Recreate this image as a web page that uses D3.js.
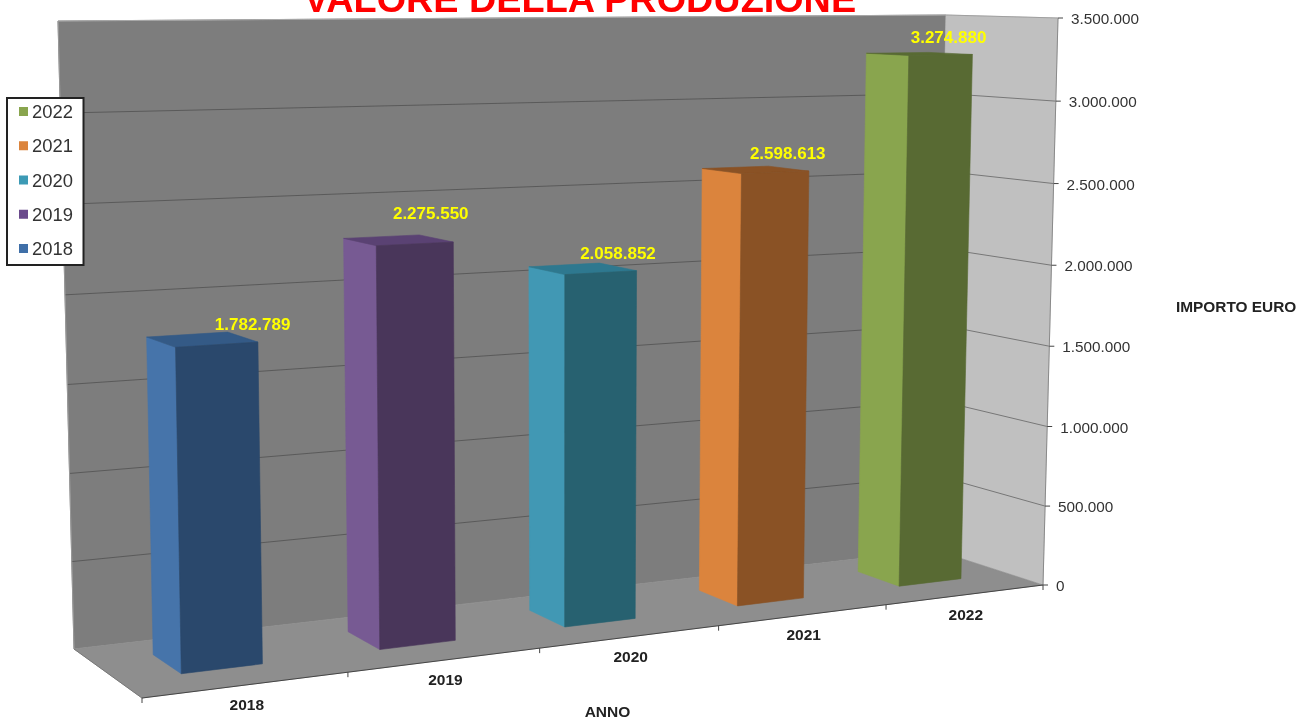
<!DOCTYPE html>
<html><head><meta charset="utf-8">
<script src="https://cdnjs.cloudflare.com/ajax/libs/d3/7.8.5/d3.min.js"></script>
<style>html,body{margin:0;background:#fff}svg{display:block;filter:blur(0.45px)}text{font-family:"Liberation Sans",Arial,sans-serif}</style>
</head><body><svg id="c" width="1301" height="720"></svg>
<script>
const categories = ["2018","2019","2020","2021","2022"];
const values = [1782789,2275550,2058852,2598613,3274880];
const valueTicks = [0,500000,1000000,1500000,2000000,2500000,3000000,3500000];
const tickLabels = ["0","500.000","1.000.000","1.500.000","2.000.000","2.500.000","3.000.000","3.500.000"];
const sideColors = ["#4674aa","#775a93","#4198b4","#db843d","#89a54e"];
const frontColors = ["#2a486c","#49365a","#276170","#8a5225","#586a33"];
const topColors = ["#345a86","#5a4273","#2e788f","#8a5225","#586a33"];
const swatchColors = ["#3f6fa8","#6a4a8c","#3c9ab5","#db843d","#89a54e"];
const labelShift = [[51,-9],[33,-21],[36,-10],[33,-11],[30,-11]];

const svg = d3.select("#c");
const fmt = d3.formatLocale({decimal:",",thousands:".",grouping:[3],currency:["","€"]}).format(",d");

// Perspective box: eight screen corners of the plot volume
const box = {
  tbl:[58,21], tbr:[946,15], bbl:[74,649], bbr:[935,550],
  tfl:[130,25], tfr:[1058,18], bfl:[142,698], bfr:[1043,585]
};
const warp = a => t => a*t/(a*t+1-t);
const wx = warp(1.185), wy = warp(0.97), wz = warp(1.2);
const xBand = d3.scaleBand().domain(categories).range([0,1]).paddingInner(0.6).paddingOuter(0.3);
const y = d3.scaleLinear().domain([0,3500000]).range([0,1]);
const lerp = (a,b,t)=>[a[0]+(b[0]-a[0])*t,a[1]+(b[1]-a[1])*t];
function P(x,v,z){ // x 0..1 left-right, v value, z 0 front..1 back
  const u=wx(x), h=wy(y(v)), d=wz(z);
  const bot=lerp(lerp(box.bfl,box.bfr,u),lerp(box.bbl,box.bbr,u),d);
  const top=lerp(lerp(box.tfl,box.tfr,u),lerp(box.tbl,box.tbr,u),d);
  return lerp(bot,top,h);
}
const poly=(pts,fill,stroke)=>svg.append("polygon").attr("points",pts.map(p=>p.join(",")).join(" ")).attr("fill",fill).attr("stroke",stroke||fill).attr("stroke-width",stroke?1:0.6);
const seg=(a,b,col,w)=>svg.append("line").attr("x1",a[0]).attr("y1",a[1]).attr("x2",b[0]).attr("y2",b[1]).attr("stroke",col).attr("stroke-width",w||1);
const vMax=y.domain()[1];

// Title
svg.append("text").attr("x",580).attr("y",12).attr("text-anchor","middle").attr("font-size",37.8).attr("font-weight","bold").attr("fill","#ff0000").text("VALORE DELLA PRODUZIONE");

// Walls and floor
poly([box.tbl,box.tbr,box.bbr,box.bbl],"#7d7d7d","#8f8f8f");
poly([box.tbr,box.tfr,box.bfr,box.bbr],"#c0c0c0");
poly([box.bbl,box.bbr,box.bfr,box.bfl],"#8e8e8e");

// Gridlines
valueTicks.slice(1,-1).forEach(t=>{
  seg(P(0,t,1),P(1,t,1),"#5a5a5a",1);
  seg(P(1,t,1),P(1,t,0),"#777",1);
});

// Axes lines
seg(P(1,0,0),P(1,vMax,0),"#8a8a8a",1);
seg(box.tbl,box.tbr,"#a8a8a8",1);
seg(box.tbr,box.tfr,"#a0a0a0",1);
seg(P(0,0,0),P(1,0,0),"#444",1);
seg(box.bbl,box.bfl,"#777",1);
seg(box.tbl,box.bbl,"#999",1);

// Y ticks and labels
valueTicks.forEach((t,i)=>{
  const p=P(1,t,0);
  seg(p,[p[0]+5,p[1]],"#444",1);
  svg.append("text").attr("x",p[0]+13).attr("y",p[1]+6).attr("font-size",15.3).attr("fill","#333").text(tickLabels[i]);
});

// X ticks and labels
const step=xBand.step();
d3.range(categories.length+1).forEach(i=>{
  const p=P(i*step,0,0);
  seg(p,[p[0],p[1]+5],"#444",1);
});
categories.forEach((c,i)=>{
  const p=P((i+0.5)*step,0,0);
  svg.append("text").attr("x",p[0]).attr("y",p[1]+25).attr("text-anchor","middle").attr("font-size",15.5).attr("font-weight","bold").attr("fill","#222").text(c);
});

// Bars
const z0=0.3,z1=0.7;
categories.forEach((c,i)=>{
  const a=xBand(c), b=a+xBand.bandwidth(), v=values[i];
  poly([P(a,0,z0),P(a,0,z1),P(a,v,z1),P(a,v,z0)],sideColors[i]);
  poly([P(a,v,z0),P(a,v,z1),P(b,v,z1),P(b,v,z0)],topColors[i]);
  poly([P(a,0,z0),P(b,0,z0),P(b,v,z0),P(a,v,z0)],frontColors[i]);
});
categories.forEach((c,i)=>{
  const m=xBand(c)+xBand.bandwidth()/2, p=P(m,values[i],0.5);
  svg.append("text").attr("x",p[0]+labelShift[i][0]).attr("y",p[1]+labelShift[i][1]).attr("text-anchor","middle").attr("font-size",17).attr("font-weight","bold").attr("fill","#ffff00").text(fmt(values[i]));
});

// Axis titles
svg.append("text").attr("x",607.5).attr("y",717).attr("text-anchor","middle").attr("font-size",15.5).attr("font-weight","bold").attr("fill","#222").text("ANNO");
svg.append("text").attr("x",1176).attr("y",312).attr("font-size",15.4).attr("font-weight","bold").attr("fill","#222").text("IMPORTO EURO");

// Legend
const lg=svg.append("g");
lg.append("rect").attr("x",7).attr("y",98).attr("width",76.5).attr("height",167).attr("fill","#fff").attr("stroke","#222").attr("stroke-width",2);
const rowY=d3.scalePoint().domain(categories.slice().reverse()).range([111,248]);
categories.forEach((c,i)=>{
  lg.append("rect").attr("x",19).attr("y",rowY(c)-4).attr("width",9).attr("height",9).attr("fill",swatchColors[i]);
  lg.append("text").attr("x",32).attr("y",rowY(c)+7).attr("font-size",18.4).attr("fill","#333").text(c);
});
</script></body></html>
